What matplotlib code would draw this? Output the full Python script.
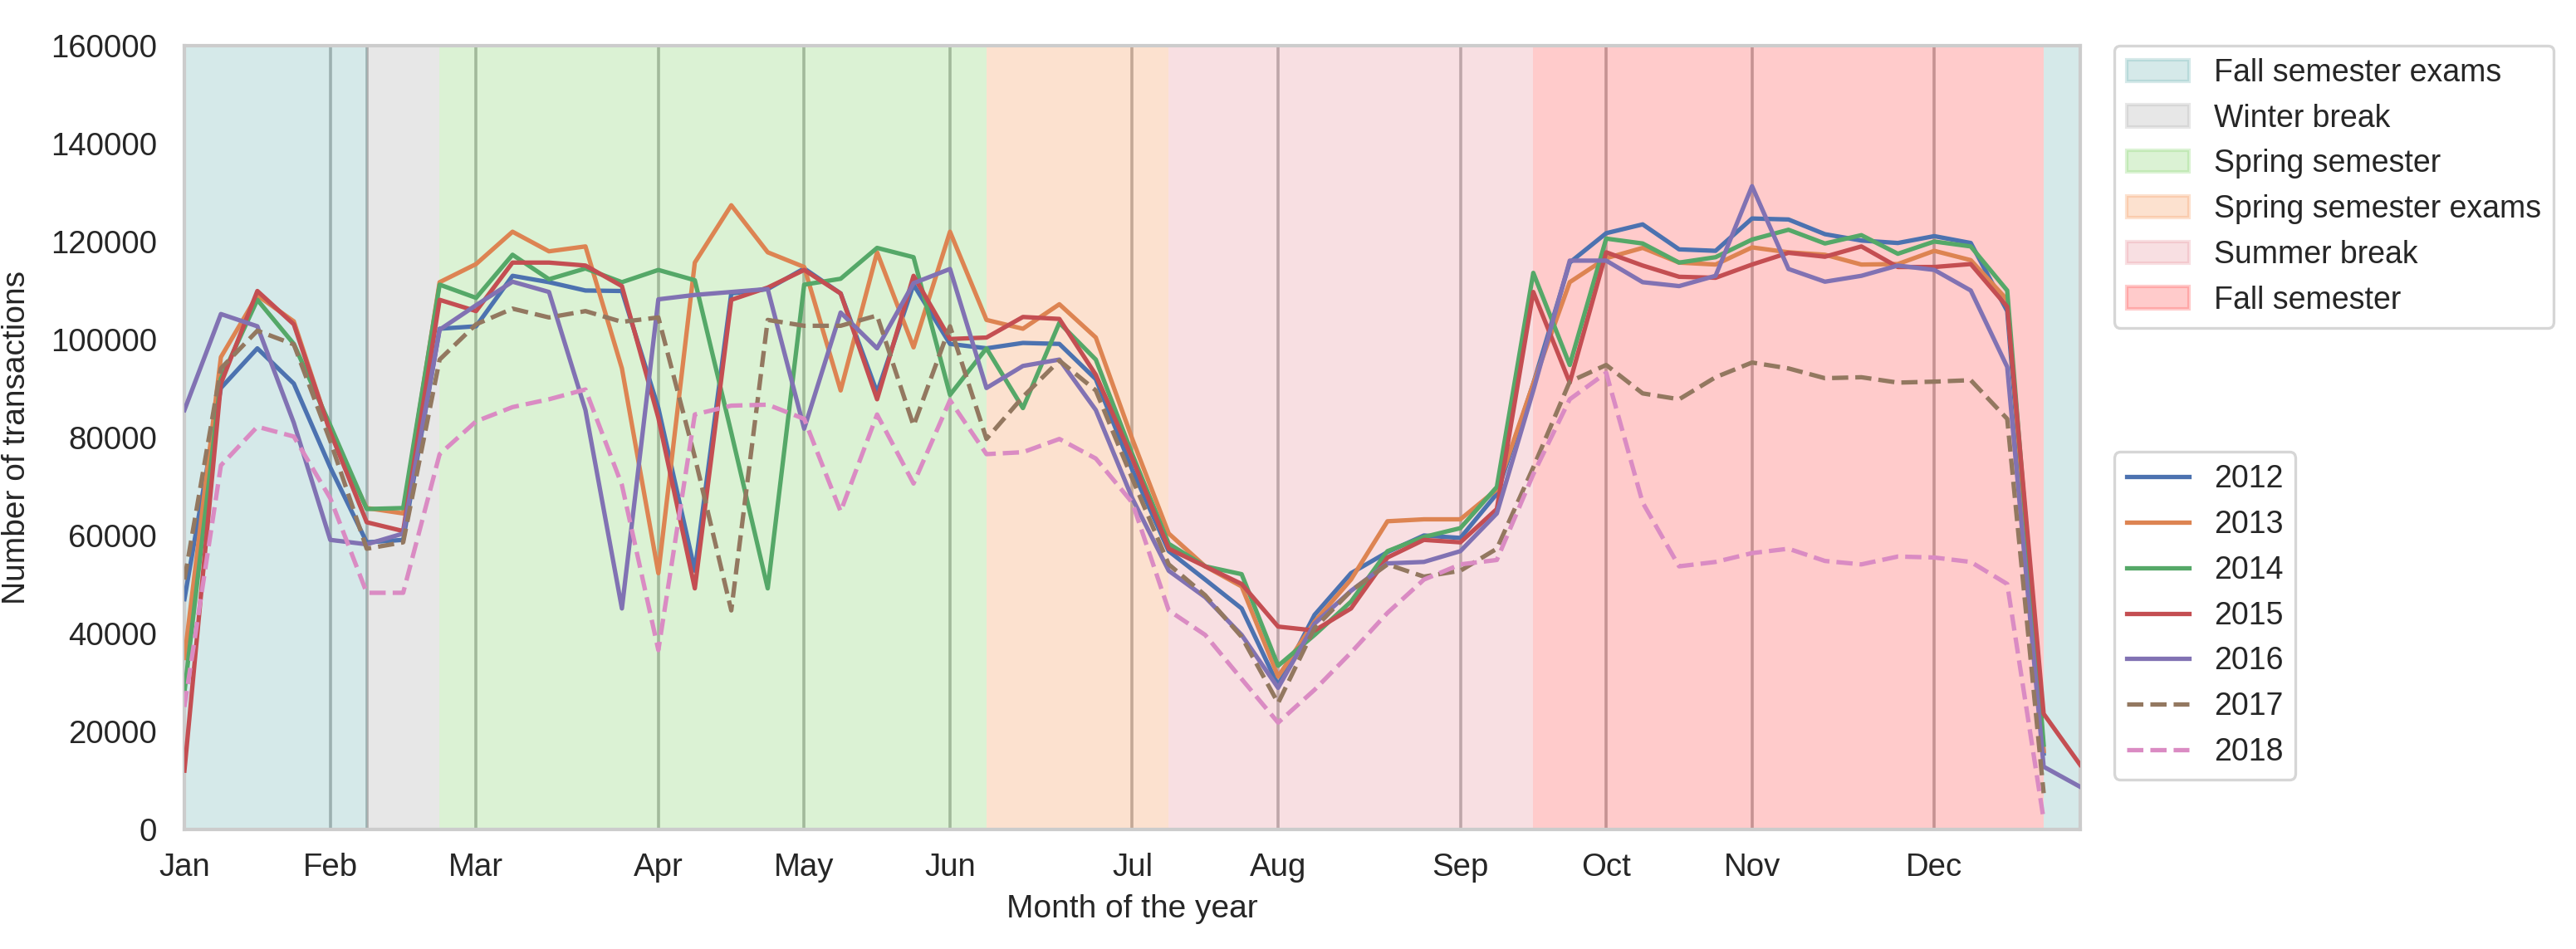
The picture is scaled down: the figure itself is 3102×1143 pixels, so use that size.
import numpy as np
import matplotlib
matplotlib.use('Agg')
import matplotlib.pyplot as plt
from matplotlib.patches import Patch
from matplotlib.lines import Line2D

nan = np.nan

# weekly transaction counts, week 0 .. 52
weeks = list(range(53))

y2012 = [47000, 90100, 98200, 91000, 73900, 58600, 59100, 102200, 102700, 113000,
         111700, 110000, 109900, 86000, 52800, 109400, 110300, 114500, 109400, 89200,
         111200, 99100, 98200, 99300, 99100, 91900, 73400, 56800, 51000, 45100,
         29400, 43800, 52300, 56600, 60000, 59500, 68500, 91000, 115700, 121700,
         123500, 118400, 118100, 124700, 124500, 121500, 120200, 119700, 121100, 119700,
         105800, 15500, nan]
y2013 = [35000, 96400, 109000, 103700, 81100, 65600, 64500, 111700, 115400, 122000,
         118000, 119000, 94100, 52300, 115700, 127400, 117800, 114800, 89600, 117800,
         98400, 122000, 104000, 102200, 107200, 100400, 79700, 60400, 53700, 49600,
         31200, 42400, 51000, 62900, 63300, 63300, 69400, 91000, 111700, 116600,
         118700, 115700, 115300, 118800, 117800, 117300, 115300, 115400, 118100, 116200,
         108100, 16000, nan]
y2014 = [28000, 92000, 108100, 99100, 82500, 65400, 65600, 111200, 108500, 117300,
         112300, 114500, 111700, 114200, 112100, 81000, 49200, 111200, 112400, 118700,
         116800, 88700, 98200, 86000, 103400, 95900, 76600, 58300, 53700, 52100,
         33400, 39700, 46500, 56800, 59700, 61500, 69900, 113600, 94800, 120600,
         119600, 115700, 116800, 120400, 122400, 119600, 121300, 117500, 120000, 119000,
         110000, 17300, nan]
y2015 = [12000, 91000, 109900, 103100, 81100, 62700, 60900, 108100, 105800, 115700,
         115700, 115100, 110900, 84000, 49200, 108100, 110600, 114200, 109400, 87800,
         113000, 100100, 100400, 104600, 104200, 92800, 75700, 57300, 53700, 50100,
         41400, 40600, 45100, 55500, 59100, 58600, 65400, 109700, 91200, 117800,
         115100, 112800, 112600, 115300, 117700, 116900, 119000, 114800, 114800, 115400,
         106700, 23600, 13200]
y2016 = [85600, 105200, 102700, 83000, 59100, 58200, 60400, 102000, 107000, 111800,
         109700, 85600, 45100, 108200, 109100, 109700, 110300, 81800, 105500, 98200,
         111500, 114400, 90100, 94600, 95900, 85600, 67600, 52800, 47400, 39700,
         28900, 42000, 48700, 54300, 54600, 56800, 64500, 89600, 116100, 116100,
         111700, 110900, 113000, 131300, 114400, 111800, 113000, 115100, 114200, 110000,
         94400, 12800, 8700]
y2017 = [51000, 94100, 101800, 99000, 79300, 57300, 58600, 95900, 103100, 106300,
         104500, 105800, 103600, 104500, 76000, 44700, 104000, 102800, 102800, 104900,
         82400, 102700, 79700, 88300, 95700, 89600, 71600, 54100, 47800, 39300,
         25800, 41100, 48700, 54100, 51600, 52800, 57300, 73900, 91400, 94800,
         89000, 87800, 92300, 95300, 94100, 92100, 92300, 91200, 91400, 91700,
         83800, 7400, nan]
y2018 = [25000, 74300, 82200, 80200, 67600, 48300, 48300, 76600, 83300, 86200,
         87800, 89800, 70300, 36600, 84700, 86500, 86700, 83800, 64900, 84700,
         70600, 87600, 76600, 77000, 79700, 75700, 66700, 44700, 39700, 30700,
         21800, 28500, 36100, 44200, 51000, 54100, 55000, 72500, 87800, 93200,
         66700, 53700, 54600, 56400, 57300, 54800, 54100, 55700, 55500, 54600,
         50100, 2000, nan]

years = ['2012', '2013', '2014', '2015', '2016', '2017', '2018']
series = [y2012, y2013, y2014, y2015, y2016, y2017, y2018]
line_colors = ['#4C72B0', '#DD8452', '#55A868', '#C44E52', '#8172B3', '#937860', '#DA8BC3']
line_styles = ['-', '-', '-', '-', '-', '--', '--']

# academic calendar periods (in weeks)
period_labels = ['Fall semester exams', 'Winter break', 'Spring semester',
                 'Spring semester exams', 'Summer break', 'Fall semester', None]
period_start = [0, 5, 7, 22, 27, 37, 51]
period_end = [5, 7, 22, 27, 37, 51, 52]
period_colors = ['#76b9b9', '#b2b2b2', '#8ad773', '#f89e62', '#e898a2', '#ff5555', '#76b9b9']

month_weeks = [0, 4, 8, 13, 17, 21, 26, 30, 35, 39, 43, 48]
month_names = ['Jan', 'Feb', 'Mar', 'Apr', 'May', 'Jun',
               'Jul', 'Aug', 'Sep', 'Oct', 'Nov', 'Dec']

plt.rcParams['font.family'] = ['Liberation Sans', 'DejaVu Sans']
plt.rcParams['font.size'] = 13.5
plt.rcParams['text.color'] = '0.15'
plt.rcParams['axes.labelcolor'] = '0.15'
plt.rcParams['xtick.color'] = '0.15'
plt.rcParams['ytick.color'] = '0.15'

fig, ax = plt.subplots(figsize=(15.51, 5.715), dpi=200)
fig.subplots_adjust(left=0.0716, right=0.8075, top=0.952, bottom=0.126)

span_alpha = 0.3
for s, e, c in zip(period_start, period_end, period_colors):
    ax.axvspan(s, e, facecolor=c, alpha=span_alpha, lw=0, zorder=1)

lw = 1.9
for ys, lab, c, ls in zip(series, years, line_colors, line_styles):
    ax.plot(weeks, ys, color=c, linestyle=ls, lw=lw, label=lab, zorder=3)

ax.set_xlim(0, 52)
ax.set_ylim(0, 160000)
ax.set_yticks(np.arange(0, 160001, 20000))
ax.set_xticks(month_weeks)
ax.set_xticklabels(month_names)
ax.set_xticks([5], minor=True)
ax.tick_params(axis='both', which='both', length=0, labelsize=13.8)
ax.tick_params(axis='x', pad=10)
ax.tick_params(axis='y', pad=12)

ax.set_axisbelow(True)
ax.grid(axis='x', which='both', color='0.68', lw=1.3)
ax.grid(axis='y', visible=False)
for sp in ax.spines.values():
    sp.set_color('0.8')
    sp.set_linewidth(1.5)

ax.set_xlabel('Month of the year', fontsize=14, labelpad=5)
ax.set_ylabel('Number of transactions', fontsize=14, labelpad=8)

period_handles = []
for lab, c in zip(period_labels, period_colors):
    if lab is None:
        continue
    period_handles.append(Patch(facecolor=c, edgecolor=c, alpha=span_alpha, lw=1.5, label=lab))

leg1 = ax.legend(handles=period_handles, loc='upper left', bbox_to_anchor=(1.018, 1.0),
                 borderaxespad=0, fontsize=13.5, labelspacing=0.5, edgecolor='0.8',
                 framealpha=0.8)
leg1.get_frame().set_linewidth(1.2)
ax.add_artist(leg1)

year_handles = [Line2D([], [], color=c, linestyle=ls, lw=lw, label=lab)
                for lab, c, ls in zip(years, line_colors, line_styles)]
leg2 = ax.legend(handles=year_handles, loc='upper left', bbox_to_anchor=(1.018, 0.4815),
                 borderaxespad=0, fontsize=13.5, labelspacing=0.5, edgecolor='0.8',
                 framealpha=0.8)
leg2.get_frame().set_linewidth(1.2)

fig.savefig('out.png', dpi=200)
